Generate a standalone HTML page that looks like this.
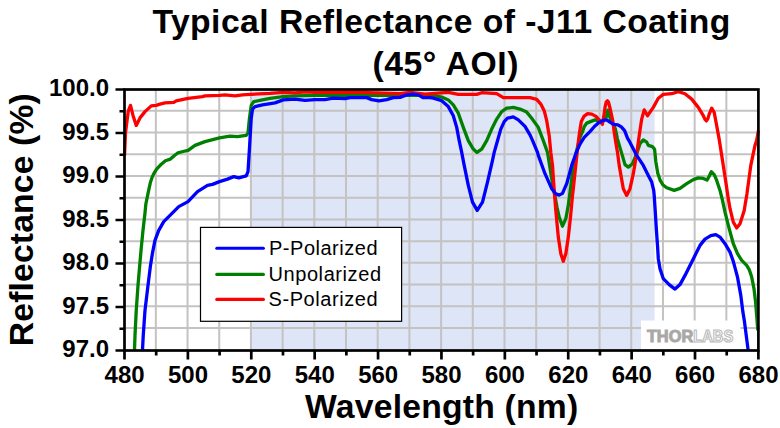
<!DOCTYPE html>
<html><head><meta charset="utf-8"><title>Typical Reflectance of -J11 Coating</title>
<style>html,body{margin:0;padding:0;background:#fff}svg{display:block}text{font-family:"Liberation Sans",sans-serif}</style></head><body>
<svg width="780" height="428" viewBox="0 0 780 428">
<rect x="0" y="0" width="780" height="428" fill="#ffffff"/>
<rect x="251.28" y="89.50" width="403.32" height="261.00" fill="#dde5f6"/>
<path d="M155.84 89.50V350.50M187.54 89.50V350.50M219.23 89.50V350.50M250.93 89.50V350.50M282.62 89.50V350.50M314.32 89.50V350.50M346.01 89.50V350.50M377.71 89.50V350.50M409.40 89.50V350.50M441.10 89.50V350.50M472.79 89.50V350.50M504.49 89.50V350.50M536.19 89.50V350.50M567.88 89.50V350.50M599.57 89.50V350.50M631.27 89.50V350.50M662.97 89.50V350.50M694.66 89.50V350.50M726.36 89.50V350.50M124.50 110.82H758.40M124.50 132.54H758.40M124.50 154.26H758.40M124.50 175.98H758.40M124.50 197.70H758.40M124.50 219.42H758.40M124.50 241.14H758.40M124.50 262.86H758.40M124.50 284.58H758.40M124.50 306.30H758.40M124.50 328.02H758.40" stroke="#c5c2c2" stroke-width="2.00" fill="none"/>
<rect x="641" y="320.5" width="99.5" height="29" fill="#ffffff"/>
<g font-weight="bold" font-size="15.7"><text x="646.9" y="341.7" textLength="46.3" lengthAdjust="spacingAndGlyphs" fill="#a8a8a8" stroke="#a8a8a8" stroke-width="0.9">THOR</text>
<text x="693.2" y="341.7" textLength="40" lengthAdjust="spacingAndGlyphs" fill="#ffffff" stroke="#b9b9b9" stroke-width="1.1">LABS</text></g>
<g fill="none" stroke-width="3.30" stroke-linejoin="round" stroke-linecap="butt">
<polyline points="134.50,349.90 135.00,335.40 136.25,310.40 138.00,285.40 139.50,267.90 141.25,247.90 143.00,230.40 145.00,212.90 145.85,204.00 148.40,191.60 150.30,182.80 152.20,177.10 154.00,173.30 156.60,169.20 160.40,165.10 165.40,160.70 170.40,159.10 174.20,155.70 178.00,152.80 183.10,151.50 188.10,150.30 195.00,145.40 205.00,141.65 219.50,137.90 230.00,136.15 237.50,136.65 246.25,135.40 248.00,132.90 249.50,117.90 251.25,105.40 253.75,101.65 260.00,100.40 270.00,98.40 283.25,96.65 295.00,95.90 315.00,95.40 345.00,95.40 400.00,95.40 420.00,95.40 433.30,95.40 441.70,97.10 448.30,99.90 453.30,104.90 458.30,113.20 463.30,127.40 468.30,140.70 473.30,149.10 477.00,152.40 481.70,149.10 486.70,140.70 491.70,129.10 496.70,119.10 501.70,111.60 506.70,108.20 513.30,107.40 520.00,109.10 526.70,112.10 531.70,118.20 538.30,127.40 543.30,140.70 547.50,152.40 548.30,157.10 551.70,178.70 555.00,196.40 557.00,207.40 559.20,217.10 562.50,226.20 565.80,218.70 568.30,205.40 570.00,192.40 573.30,165.40 577.50,147.10 580.00,137.40 582.60,131.40 584.30,126.50 586.80,123.10 591.00,121.40 595.20,119.90 598.60,120.90 602.50,121.60 606.10,117.60 607.80,110.10 609.50,116.40 611.20,120.60 615.40,129.00 617.50,139.10 621.70,153.40 625.00,164.60 628.30,167.10 632.50,163.70 636.70,153.70 640.00,143.70 643.30,139.90 646.70,142.10 648.30,145.40 652.50,146.70 654.60,149.30 655.80,161.50 657.70,172.90 660.20,180.40 662.80,184.70 666.70,187.70 674.20,190.40 680.00,188.40 686.70,183.70 693.30,179.60 698.30,177.90 703.30,178.40 707.00,180.10 709.20,176.20 711.30,171.70 714.20,174.60 716.70,180.40 720.00,190.40 722.50,200.40 725.00,212.10 729.20,228.70 733.30,243.70 737.50,253.70 741.70,260.40 746.70,265.40 749.20,269.60 751.70,277.10 754.00,288.70 755.60,302.10 756.80,317.10 757.80,330.40" stroke="#008000"/>
<polyline points="124.50,155.40 125.50,132.90 128.25,111.15 130.50,105.40 133.00,115.40 136.25,125.40 140.00,117.90 145.00,111.65 151.25,105.90 156.25,105.40 160.00,104.15 165.00,102.90 173.75,102.40 176.25,100.90 188.00,98.40 202.50,96.65 205.00,95.90 219.50,95.40 225.00,94.90 235.00,95.90 242.50,94.90 250.50,94.40 270.00,93.40 283.25,92.40 295.00,92.90 305.00,91.90 315.00,92.40 345.00,92.40 352.00,92.10 400.00,93.70 410.00,92.40 425.00,94.10 448.30,92.40 458.30,94.40 476.70,94.40 481.70,92.70 496.70,93.70 503.30,97.70 530.00,97.70 536.70,99.40 540.80,104.10 544.20,110.70 546.70,120.70 549.20,135.70 550.80,152.40 552.50,165.40 554.20,190.40 555.80,210.40 558.30,237.10 560.80,253.70 563.30,261.20 565.80,253.70 568.30,237.10 570.50,217.10 572.50,195.40 573.50,187.10 576.30,160.40 578.50,140.40 579.70,131.40 581.30,121.40 583.90,116.40 587.60,113.60 591.80,114.10 596.00,116.40 599.40,120.20 602.40,124.40 603.80,116.40 605.10,106.90 606.20,102.10 607.40,100.80 608.50,102.10 609.90,107.60 611.50,114.90 612.90,121.40 614.10,131.40 615.80,142.40 617.50,152.40 619.20,165.40 623.30,188.70 626.70,195.40 630.00,188.70 633.30,173.70 636.70,153.70 639.20,135.70 641.70,119.10 644.20,109.90 647.50,115.70 653.30,107.40 658.30,98.20 663.30,94.40 671.70,93.70 678.30,91.60 685.00,93.70 691.70,99.10 698.30,107.40 703.30,115.70 705.00,119.40 706.40,120.90 707.80,118.90 709.20,114.10 711.70,108.20 714.20,112.40 716.70,125.70 719.20,139.40 722.50,160.40 725.80,182.10 728.30,198.70 730.00,208.70 733.30,222.10 736.70,227.90 740.00,223.70 744.20,210.40 747.00,193.40 750.80,165.40 755.00,145.40 756.70,140.40 758.50,130.40" stroke="#ff0000"/>
<polyline points="142.50,349.90 143.25,335.40 145.00,310.40 148.00,285.40 150.50,265.40 152.50,252.90 155.00,240.40 158.75,230.40 163.75,221.65 170.00,215.40 178.75,206.65 188.00,201.65 197.50,191.65 207.50,185.40 212.50,184.40 219.50,181.65 227.50,179.15 233.75,176.65 238.75,177.90 246.25,175.90 248.00,171.65 249.50,147.90 251.25,117.90 252.50,109.15 255.00,106.65 262.50,104.90 275.00,102.90 283.25,99.90 295.00,99.15 305.00,100.40 315.00,99.60 325.00,99.60 333.00,98.20 345.00,98.70 350.00,97.60 366.70,97.60 371.70,99.60 379.00,100.90 386.70,99.60 393.30,97.60 400.00,97.40 406.70,94.90 413.30,94.10 418.30,94.90 423.30,97.70 430.00,97.70 433.30,98.20 441.70,100.70 448.30,106.60 453.30,115.70 456.70,127.40 459.20,140.70 461.70,152.40 464.20,165.40 468.30,185.40 472.50,202.10 477.20,210.40 482.50,202.10 487.50,182.10 492.50,160.40 494.20,152.40 497.50,140.70 500.80,129.10 504.20,121.60 507.50,118.20 513.30,116.90 518.30,119.90 525.00,126.40 530.00,134.90 532.50,140.40 537.50,152.40 538.30,155.40 545.00,173.70 551.70,188.70 555.80,193.70 559.20,195.10 562.50,193.40 566.70,183.70 571.70,165.40 576.70,151.40 580.00,144.10 584.20,137.40 590.20,131.40 594.40,126.50 598.60,122.70 603.60,120.20 607.00,120.20 610.30,122.30 613.70,124.40 617.90,124.80 621.30,126.90 624.60,130.70 627.50,138.20 630.00,142.40 636.70,155.40 643.30,165.40 648.30,175.40 651.70,182.10 653.70,190.40 654.20,195.40 655.30,212.10 656.30,228.70 657.50,245.40 658.30,258.70 660.00,268.70 663.30,278.70 669.20,284.60 675.00,289.10 680.00,284.60 685.00,275.40 690.00,265.40 695.00,255.40 700.00,245.40 705.00,239.10 710.80,235.70 715.80,234.60 720.00,237.10 725.00,243.70 730.00,252.10 733.30,261.40 737.50,277.10 740.80,295.40 742.90,312.10 744.30,320.40 748.10,349.90" stroke="#0000ff"/>
</g>
<rect x="124.50" y="89.50" width="633.90" height="261.00" fill="none" stroke="#000" stroke-width="2.70"/>
<path d="M124.50 350.50v9.00M156.19 350.50v5.00M187.89 350.50v9.00M219.58 350.50v5.00M251.28 350.50v9.00M282.98 350.50v5.00M314.67 350.50v9.00M346.37 350.50v5.00M378.06 350.50v9.00M409.75 350.50v5.00M441.45 350.50v9.00M473.14 350.50v5.00M504.84 350.50v9.00M536.54 350.50v5.00M568.23 350.50v9.00M599.92 350.50v5.00M631.62 350.50v9.00M663.32 350.50v5.00M695.01 350.50v9.00M726.71 350.50v5.00M758.40 350.50v9.00M124.50 89.50h-9.00M124.50 111.25h-5.00M124.50 133.00h-9.00M124.50 154.75h-5.00M124.50 176.50h-9.00M124.50 198.25h-5.00M124.50 220.00h-9.00M124.50 241.75h-5.00M124.50 263.50h-9.00M124.50 285.25h-5.00M124.50 307.00h-9.00M124.50 328.75h-5.00M124.50 350.50h-9.00" stroke="#000" stroke-width="2.70" fill="none"/>
<g font-weight="bold" font-size="24" fill="#000">
<text x="124.60" y="382.5" text-anchor="middle">480</text>
<text x="187.99" y="382.5" text-anchor="middle">500</text>
<text x="251.38" y="382.5" text-anchor="middle">520</text>
<text x="314.77" y="382.5" text-anchor="middle">540</text>
<text x="378.16" y="382.5" text-anchor="middle">560</text>
<text x="441.55" y="382.5" text-anchor="middle">580</text>
<text x="504.94" y="382.5" text-anchor="middle">600</text>
<text x="568.33" y="382.5" text-anchor="middle">620</text>
<text x="631.72" y="382.5" text-anchor="middle">640</text>
<text x="695.11" y="382.5" text-anchor="middle">660</text>
<text x="758.50" y="382.5" text-anchor="middle">680</text>
<text x="109.0" y="96.00" text-anchor="end">100.0</text>
<text x="109.0" y="139.50" text-anchor="end">99.5</text>
<text x="109.0" y="183.00" text-anchor="end">99.0</text>
<text x="109.0" y="226.50" text-anchor="end">98.5</text>
<text x="109.0" y="270.00" text-anchor="end">98.0</text>
<text x="109.0" y="313.50" text-anchor="end">97.5</text>
<text x="109.0" y="357.00" text-anchor="end">97.0</text>
</g>
<g font-weight="bold" font-size="33.7" fill="#000">
<text x="152.4" y="32.7" textLength="578" lengthAdjust="spacing">Typical Reflectance of -J11 Coating</text>
<text x="372.4" y="74.7" textLength="146" lengthAdjust="spacing">(45° AOI)</text>
<text x="305.1" y="417.8" textLength="273" lengthAdjust="spacing">Wavelength (nm)</text>
<text transform="translate(32.7 346.2) rotate(-90)" x="0" y="0" textLength="253" lengthAdjust="spacing">Reflectance (%)</text>
</g>
<rect x="200.5" y="227.4" width="201.1" height="93.9" fill="#ffffff" stroke="#000" stroke-width="1.2"/>
<g stroke-width="3.1" fill="none" stroke-linecap="round"><path d="M216.8 248.3H263.4" stroke="#0000ff"/><path d="M216.8 274.4H263.4" stroke="#008000"/><path d="M216.8 299.4H263.4" stroke="#ff0000"/></g>
<g font-size="20" fill="#000">
<text x="269" y="254.7" textLength="108.5" lengthAdjust="spacing">P-Polarized</text>
<text x="268.5" y="280.5" textLength="112.5" lengthAdjust="spacing">Unpolarized</text>
<text x="268.5" y="306.0" textLength="109" lengthAdjust="spacing">S-Polarized</text>
</g>
</svg></body></html>
